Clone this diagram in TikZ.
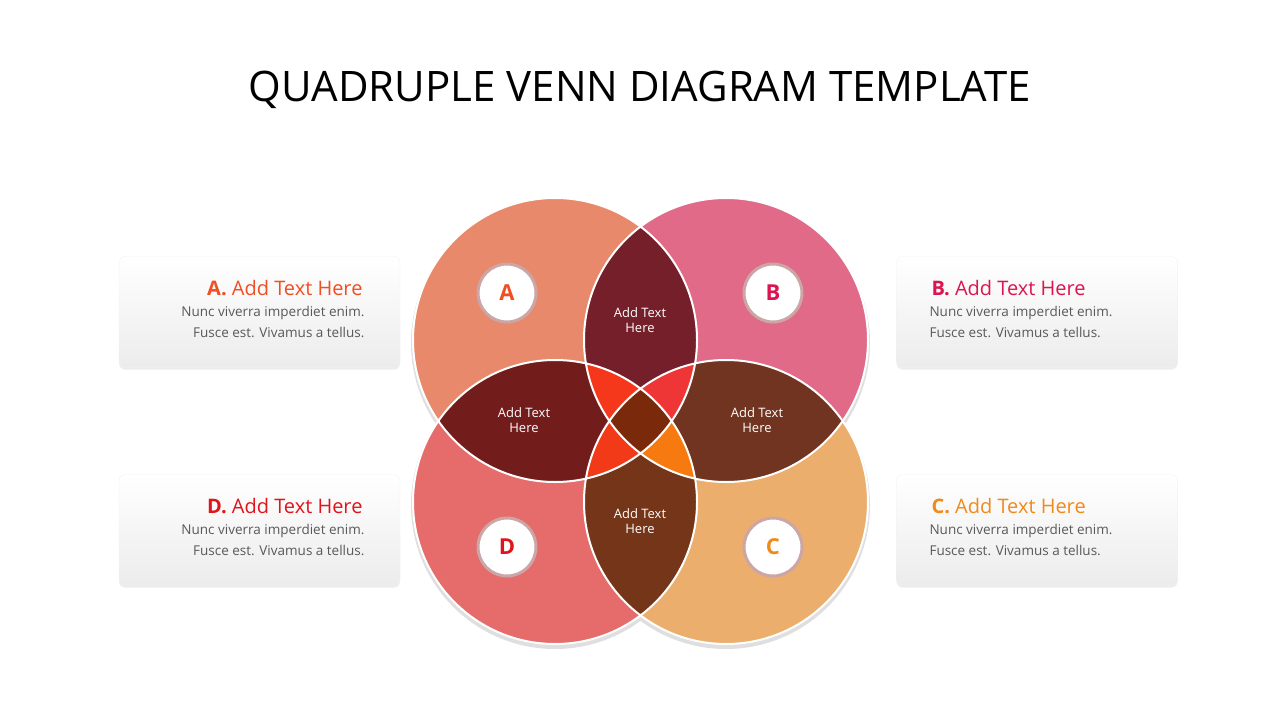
\documentclass[tikz,border=0pt]{standalone}
\usepackage{fontspec}
\setmainfont{Open Sans}
\usetikzlibrary{shadows}
\definecolor{cA}{HTML}{E8896B}\definecolor{cB}{HTML}{E06A87}
\definecolor{cC}{HTML}{EBAE6D}\definecolor{cD}{HTML}{E66B6B}
\definecolor{lAB}{HTML}{741F2A}\definecolor{lAD}{HTML}{721D1B}
\definecolor{lBC}{HTML}{703421}\definecolor{lCD}{HTML}{743519}
\definecolor{tABD}{HTML}{F5371B}\definecolor{tABC}{HTML}{EE3636}
\definecolor{tACD}{HTML}{F23A19}\definecolor{tBCD}{HTML}{F77A10}
\definecolor{qd}{HTML}{7A2A0A}
\definecolor{kA}{HTML}{F04E23}\definecolor{kB}{HTML}{DC1450}
\definecolor{kC}{HTML}{F08A1A}\definecolor{kD}{HTML}{E0151B}
\tikzset{
 lens/.style={text=white,font=\fontsize{13}{15}\selectfont,align=center},
 badge/.style={circle,fill=white,draw=gray!40!pink,line width=3pt,minimum size=58pt,font=\fontsize{22}{24}\selectfont\bfseries},
 box/.style={rounded corners=6pt,top color=white,bottom color=gray!15,draw=gray!10,minimum width=281pt,minimum height=111pt,drop shadow={opacity=0.15,shadow xshift=0pt,shadow yshift=-2pt}},
 head/.style={font=\fontsize{20}{24}\selectfont},
 body/.style={font=\fontsize{13.5}{21}\selectfont,text=gray!70!black}
}
\def\cA{(555,340) circle (142)}\def\cB{(726,340) circle (142)}
\def\cC{(726,502) circle (142)}\def\cD{(555,502) circle (142)}
\begin{document}
\begin{tikzpicture}[x=1pt,y=-1pt]
\useasboundingbox (0,0) rectangle (1280,720);
\node (title) at (640,90) {\fontsize{42}{48}\selectfont QUADRUPLE VENN DIAGRAM TEMPLATE};
\foreach \px/\py in {555/340,726/340,726/502,555/502} \fill[gray!25] (\px,\py+3) circle (144);
\fill[cA] \cA; \fill[cB] \cB; \fill[cC] \cC; \fill[cD] \cD;
\begin{scope}\clip\cA; \fill[lAB]\cB; \fill[lAD]\cD; \end{scope}
\begin{scope}\clip\cC; \fill[lBC]\cB; \fill[lCD]\cD; \end{scope}
\begin{scope}\clip\cA; \clip\cB; \fill[tABD]\cD; \fill[tABC]\cC; \end{scope}
\begin{scope}\clip\cD; \clip\cC; \fill[tACD]\cA; \fill[tBCD]\cB; \end{scope}
\begin{scope}\clip\cA; \clip\cB; \clip\cC; \fill[qd]\cD; \end{scope}
\draw[white,line width=2pt] \cA \cB \cC \cD;
\node[lens] (ab) at (640,320) {Add Text\\Here};
\node[lens] (ad) at (524,420) {Add Text\\Here};
\node[lens] (bc) at (757,420) {Add Text\\Here};
\node[lens] (cd) at (640,521) {Add Text\\Here};
\node[badge,text=kA] (ba) at (507,293) {A};
\node[badge,text=kB] (bb) at (773,293) {B};
\node[badge,text=kD] (bd) at (507,547) {D};
\node[badge,text=kC] (bcc) at (773,547) {C};
\node[box] (xa) at (259.5,312) {}; \node[box] (xd) at (259.5,530) {};
\node[box] (xb) at (1037,312) {}; \node[box] (xc) at (1037,530) {};
\foreach \y/\k/\L in {288/kA/A,506/kD/D}{
 \node[head,anchor=east] at (366,\y) {\textcolor{\k}{\textbf{\L.} Add Text Here}};
 \node[body,anchor=north east,align=right] at (368,\y+15) {Nunc viverra imperdiet enim.\\Fusce est. Vivamus a tellus.};}
\foreach \y/\k/\L in {288/kB/B,506/kC/C}{
 \node[head,anchor=west] at (928,\y) {\textcolor{\k}{\textbf{\L.} Add Text Here}};
 \node[body,anchor=north west,align=left] at (926,\y+15) {Nunc viverra imperdiet enim.\\Fusce est. Vivamus a tellus.};}
\end{tikzpicture}
\end{document}
